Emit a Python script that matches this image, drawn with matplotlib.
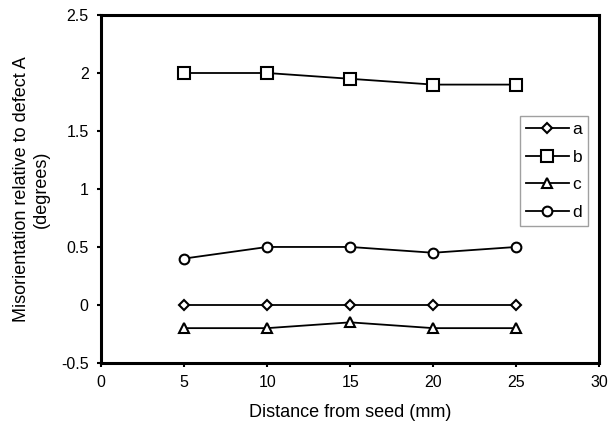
import matplotlib
matplotlib.use("Agg")
import matplotlib.pyplot as plt

x = [5, 10, 15, 20, 25]
a = [0, 0, 0, 0, 0]
b = [2.0, 2.0, 1.95, 1.9, 1.9]
c = [-0.2, -0.2, -0.15, -0.2, -0.2]
d = [0.4, 0.5, 0.5, 0.45, 0.5]
labels = ["a", "b", "c", "d"]
markers = ["D", "s", "^", "o"]
sizes = [5.5, 8, 7.5, 7]

plt.rcParams['font.family'] = ['Liberation Sans', 'DejaVu Sans']

fig = plt.figure(figsize=(6.09, 4.29), dpi=100)
ax = fig.add_axes([0.166, 0.154, 0.818, 0.811])

for ys, lab, m, ms in zip([a, b, c, d], labels, markers, sizes):
    ax.plot(x, ys, color='black', lw=1.3, marker=m, ms=ms,
            mfc='white', mec='black', mew=1.5, label=lab)

ax.set_xlim(0, 30)
ax.set_ylim(-0.5, 2.5)
ax.set_xticks([0, 5, 10, 15, 20, 25, 30])
ax.set_yticks([-0.5, 0, 0.5, 1, 1.5, 2, 2.5])
ax.set_yticklabels(["-0.5", "0", "0.5", "1", "1.5", "2", "2.5"])
ax.tick_params(direction='out', length=3, width=1.5, labelsize=11.5, pad=6)
for s in ax.spines.values():
    s.set_linewidth(2.2)

ax.set_xlabel("Distance from seed (mm)", fontsize=13, labelpad=10)
ax.set_ylabel("Misorientation relative to defect A\n(degrees)", fontsize=13,
              labelpad=8, linespacing=1.2)

leg = ax.legend(loc='upper left', bbox_to_anchor=(0.84, 0.71), frameon=True,
                fancybox=False, edgecolor='#888888', fontsize=12.5,
                handlelength=2.5, handletextpad=0.2, borderpad=0.35,
                labelspacing=0.72, borderaxespad=0)
leg.get_frame().set_linewidth(1.0)

fig.savefig("out.png", dpi=100)
